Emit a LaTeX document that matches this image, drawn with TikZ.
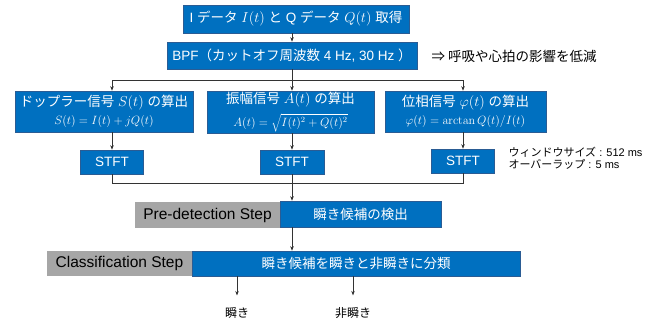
\documentclass[tikz,border=0pt]{standalone}
\usepackage[no-math]{fontspec}
\setmainfont{Liberation Sans}
\newfontfamily\jp{Noto Sans CJK JP}
\usetikzlibrary{arrows.meta}
\definecolor{bx}{HTML}{0070C0}
\definecolor{bxd}{HTML}{2A5C94}
\definecolor{gr}{HTML}{A6A6A6}
\definecolor{ln}{HTML}{333333}
\begin{document}
\begin{tikzpicture}[x=1pt,y=-1pt,
  bluebox/.style={fill=bx, draw=bxd, line width=0.6pt, text=white, inner sep=0pt, align=center},
  graybox/.style={fill=gr, draw=none, text=black, inner sep=0pt},
  conn/.style={draw=ln, line width=0.6pt},
  arr/.style={conn, -{Stealth[length=4.5pt,width=3.5pt]}},
  hd/.style={font=\fontsize{13.5}{18}\selectfont},
  lab/.style={font=\fontsize{12}{14}\selectfont, text=black}]
\useasboundingbox (0,0) rectangle (660,327);

\node[bluebox, hd, minimum width=226pt, minimum height=28pt] (top) at (296,19)
  {I {\jp データ} $I(t)$ {\jp と} Q {\jp データ} $Q(t)$ {\jp 取得}};
\node[bluebox, hd, minimum width=250pt, minimum height=27pt] (bpf) at (292,55.5)
  {BPF{\jp （カットオフ周波数}~4 Hz, 30 Hz {\jp ）}};
\node[anchor=west, font=\fontsize{13.5}{16}\selectfont] (eff) at (428,56)
  {{\jp ⇒ 呼吸や心拍の影響を低減}};

\node[bluebox, hd, minimum width=178pt, minimum height=41pt] (box1) at (104,111.5)
  {{\jp ドップラー信号} $S(t)$ {\jp の算出}\\[0pt]{\fontsize{12}{14}\selectfont $S(t)=I(t)+jQ(t)$}};
\node[bluebox, hd, minimum width=167pt, minimum height=42pt] (box2) at (290.5,112)
  {{\jp 振幅信号} $A(t)$ {\jp の算出}\\[5pt]{\fontsize{12}{14}\selectfont $A(t)=\sqrt{I(t)^2+Q(t)^2}$}};
\node[bluebox, hd, minimum width=161pt, minimum height=41pt] (box3) at (465.5,111.5)
  {{\jp 位相信号} $\varphi(t)$ {\jp の算出}\\[0pt]{\fontsize{12}{14}\selectfont $\varphi(t)=\arctan Q(t)/I(t)$}};

\node[bluebox, hd, minimum width=63pt, minimum height=24pt] (stft1) at (112,162) {STFT};
\node[bluebox, hd, minimum width=64pt, minimum height=24pt] (stft2) at (292,162) {STFT};
\node[bluebox, hd, minimum width=63pt, minimum height=24pt] (stft3) at (463,161) {STFT};
\node[anchor=west, align=left, font=\fontsize{11}{12.5}\selectfont] (win) at (505,158)
  {{\jp ウィンドウサイズ} : 512 ms\\{\jp オーバーラップ} : 5 ms};

\node[graybox, font=\fontsize{15.5}{17}\selectfont, minimum width=145pt, minimum height=26pt] (preg) at (207.5,215) {Pre-detection Step};
\node[bluebox, font=\fontsize{13.5}{16}\selectfont, minimum width=161pt, minimum height=26pt] (preb) at (360.5,214) {{\jp 瞬き候補の検出}};
\node[graybox, font=\fontsize{15.5}{17}\selectfont, minimum width=145pt, minimum height=25pt] (clg) at (119.5,263.5) {Classification Step};
\node[bluebox, font=\fontsize{13.5}{16}\selectfont, minimum width=328pt, minimum height=25pt] (clb) at (356,263.5) {{\jp 瞬き候補を瞬きと非瞬きに分類}};

\node[lab] (l1) at (237,313) {{\jp 瞬き}};
\node[lab] (l2) at (353,313) {{\jp 非瞬き}};

% connectors
\draw[arr] (top.south -| bpf.north) -- (bpf.north);
\coordinate (split) at (292,80);
\coordinate (sl) at (112,80);
\coordinate (sr) at (463,80);
\draw[conn] (bpf.south) -- (split);
\draw[conn] (sl) -- (sr);
\draw[arr] (sl) -- (sl |- box1.north);
\draw[arr] (split) -- (split |- box2.north);
\draw[arr] (sr) -- (sr |- box3.north);
\draw[arr] (stft1 |- box1.south) -- (stft1.north);
\draw[arr] (stft2 |- box2.south) -- (stft2.north);
\draw[arr] (stft3 |- box3.south) -- (stft3.north);
\coordinate (cl) at (112,183);
\coordinate (cm) at (292,183);
\coordinate (cr) at (463,183);
\draw[conn] (stft1.south) -- (cl) -- (cr) -- (stft3.south);
\draw[conn] (stft2.south) -- (cm);
\draw[arr] (cm) -- (cm |- preb.north);
\draw[arr] (preb.south -| cm) -- (clb.north -| cm);
\draw[arr, shorten >=8.5pt] (clb.south -| l1) -- (l1.north);
\draw[arr, shorten >=8.5pt] (clb.south -| l2) -- (l2.north);
\end{tikzpicture}
\end{document}
